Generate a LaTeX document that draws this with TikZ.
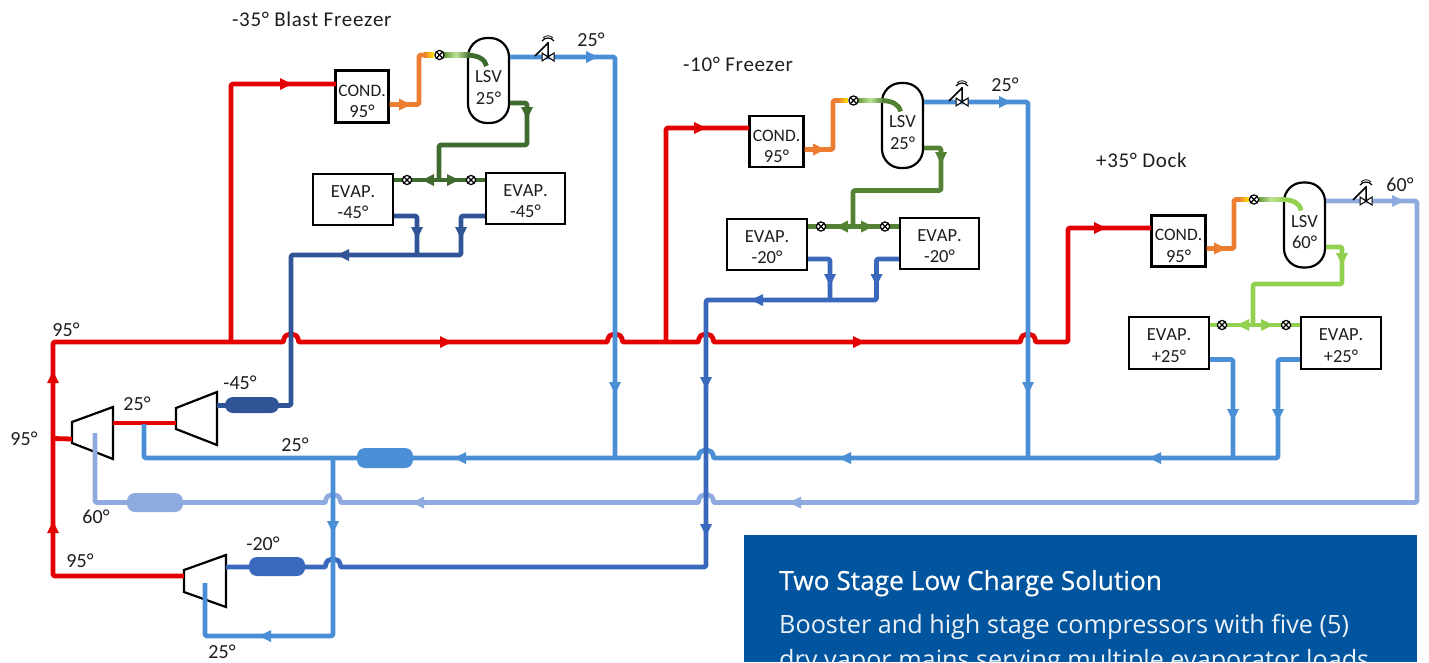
\documentclass[tikz,border=0pt]{standalone}
\usepackage{fontspec}
\setmainfont{Carlito}[Kerning=Off]
\newfontfamily\boxfont{Open Sans}
\newfontfamily\boxbold[FakeBold=0.5]{Open Sans}
\newfontfamily\titlefont[Kerning=Off,LetterSpace=3]{Carlito}
\definecolor{redl}{HTML}{E30000}
\definecolor{bluel}{HTML}{4A8FD5}
\definecolor{peri}{HTML}{8FAADF}
\definecolor{navy}{HTML}{2F5597}
\definecolor{midb}{HTML}{3A68BC}
\definecolor{dgreen}{HTML}{3F6B2F}
\definecolor{mgreen}{HTML}{548235}
\definecolor{lgreen}{HTML}{92D050}
\definecolor{orangel}{HTML}{ED7D31}
\definecolor{panel}{HTML}{00559E}
\definecolor{ink}{HTML}{1E1E1E}
\newcommand{\dn}[1]{\rule{0pt}{#1pt}}
\newcommand{\cnd}{\dn{21}{\fontsize{17.5}{21.5}\selectfont COND.}}
\tikzset{
  pipe/.style={line width=4.8pt,rounded corners=2pt,line join=round,draw=#1},
  box/.style={draw=black,line width=2.2pt,fill=white,minimum width=#1,align=center,inner sep=0pt,text=ink,font=\fontsize{18.5}{21.5}\selectfont},
  vessel/.style={draw=black,line width=2.2pt,fill=white,rounded corners=19pt,minimum width=41pt,minimum height=85pt,align=center,inner sep=0pt,text=ink,font=\fontsize{18.5}{21.5}\selectfont},
  lab/.style={text=ink,inner sep=0pt,font=\fontsize{20}{24}\selectfont},
  title/.style={text=ink,inner sep=0pt,anchor=west,font=\titlefont\fontsize{21}{24}\selectfont},
  rcv/.style={rounded corners=8pt,minimum height=#1,inner sep=0pt},
  comp/.style={draw=black,line width=2.2pt,fill=white,line join=miter},
  xvalve/.pic={\draw[black,line width=1.2pt,fill=white] (0,0) circle (4.6pt);
    \draw[black,line width=1.1pt] (-3.2,-3.2)--(3.2,3.2) (-3.2,3.2)--(3.2,-3.2);},
  gatevalve/.pic={\draw[black,line width=1pt,fill=white] (-6,-4)--(6,4)--(6,-4)--(-6,4)--cycle;
    \draw[black,line width=1.5pt] (0,0)--(0,-15) (-13,-1)--(0,-14);
    \draw[black,line width=1.2pt] (-6,-16) .. controls (-3,-20) and (3,-20) .. (6,-16);
    \draw[black,line width=.8pt] (-5,-19) .. controls (-2,-22) and (2,-22) .. (5,-19);}
}
% hump of a horizontal pipe over a vertical one
\newcommand{\hump}[2]{-- (#1-10,#2) .. controls (#1-7,#2) and (#1-8,#2-7.5) .. (#1,#2-7.5) .. controls (#1+8,#2-7.5) and (#1+7,#2) .. (#1+10,#2)}
\newcommand{\arR}[3]{\fill[#1] (#2+6,#3)--(#2-6,#3-6)--(#2-6,#3+6)--cycle;}
\newcommand{\arL}[3]{\fill[#1] (#2-6,#3)--(#2+6,#3-6)--(#2+6,#3+6)--cycle;}
\newcommand{\arU}[3]{\fill[#1] (#2,#3-6)--(#2-6,#3+6)--(#2+6,#3+6)--cycle;}
\newcommand{\arD}[3]{\fill[#1] (#2,#3+6)--(#2-6,#3-6)--(#2+6,#3-6)--cycle;}
\begin{document}
\begin{tikzpicture}[x=1pt,y=-1pt]
\useasboundingbox (0,0) rectangle (1429,662);
\begin{scope}
\clip (0,0) rectangle (1429,662);

% ---------- named vessels and boxes
\node[box=53pt,minimum height=52pt] (cond1) at (362,96.5) {\cnd\\95°};
\node[box=54pt,minimum height=51pt] (cond2) at (776.5,141.5) {\cnd\\95°};
\node[box=54pt,minimum height=51pt] (cond3) at (1178.5,241) {\cnd\\95°};
\node[vessel] (lsv1) at (488.5,80.5) {\dn{26}LSV\\25°};
\node[vessel] (lsv2) at (902.5,125.5) {\dn{26}LSV\\25°};
\node[vessel] (lsv3) at (1304.5,225) {\dn{26}LSV\\60°};
\node[box=80pt,minimum height=51pt] (ev1a) at (353,199.5) {\dn{17}EVAP.\\-45°};
\node[box=79pt,minimum height=51pt] (ev1b) at (525.5,198.5) {\dn{17}EVAP.\\-45°};
\node[box=80pt,minimum height=51pt] (ev2a) at (767,244.5) {\dn{17}EVAP.\\-20°};
\node[box=79pt,minimum height=51pt] (ev2b) at (939.5,243.5) {\dn{17}EVAP.\\-20°};
\node[box=80pt,minimum height=52pt] (ev3a) at (1169,343) {\dn{17}EVAP.\\+25°};
\node[box=80pt,minimum height=52pt] (ev3b) at (1341,343) {\dn{17}EVAP.\\+25°};

% ---------- compressors
\draw[comp] (72,422)--(113,407)--(113,459)--(72,443)--cycle;
\draw[comp] (176,408)--(217,392)--(217,445)--(176,429)--cycle;
\draw[comp] (184,570)--(226,555)--(226,607)--(184,592)--cycle;

% ---------- ports and junctions
\coordinate (c1in) at (336,84);
\coordinate (c2in) at (749,128);
\coordinate (c3in) at (1151,228);
\coordinate (hpout) at (72,439);
\coordinate (redmain) at (53,342);
\coordinate (redlow) at (184,576);
\coordinate (dis2) at (176,423);
\coordinate (dis1) at (113,423);

% ---------- periwinkle 60 deg main
\draw[pipe=peri] (95,433)--(95,502.5) \hump{333}{502.5} \hump{706}{502.5} -- (1417,502.5)--(1417,201)--(lsv3.east |- 0,201);
\node[fill=peri,rcv=19pt,minimum width=56pt] (r60) at (155,502.5) {};
\arL{peri}{418}{502.5}\arL{peri}{795}{502.5}\arR{peri}{1398}{201}

% ---------- red discharge
\draw[pipe=redl] (redlow)--(53,576)--(redmain) \hump{291}{342} \hump{615}{342} \hump{706}{342} \hump{1028}{342} -- (1068,342)--(1068,228)--(c3in);
\draw[pipe=redl] (231,342)--(231,84)--(c1in);
\draw[pipe=redl] (666,342)--(666,128)--(c2in);
\draw[pipe=redl] (53,438.5)--(hpout);
\draw[pipe=redl] (dis1)--(dis2);
\arU{redl}{53}{377}\arU{redl}{53}{527}
\arR{redl}{286}{84}\arR{redl}{700}{128}\arR{redl}{1100}{228}
\arR{redl}{446}{342}\arR{redl}{859}{342}

% ---------- 25 deg suction mains
\draw[pipe=bluel] (144,424)--(144,458)--(357,458)\hump{706}{458} -- (1278,458)--(1278,359.5)--(ev3b.west |- 0,359.5);
\draw[pipe=bluel] (1233,458)--(1233,359.5)--(ev3a.east |- 0,359.5);
\draw[pipe=bluel] (lsv1.east |- 0,57)--(615,57)--(615,458);
\draw[pipe=bluel] (lsv2.east |- 0,102)--(1028,102)--(1028,458);
\node[fill=bluel,rcv=20pt,minimum width=56pt] (r25) at (385,458) {};
\arL{bluel}{460}{458}\arL{bluel}{845}{458}\arL{bluel}{1155}{458}
\arD{bluel}{615}{388}\arD{bluel}{1028}{388}
\arR{bluel}{592}{57}\arR{bluel}{1005}{102}
\arD{bluel}{1233}{415}\arD{bluel}{1278}{415}

% ---------- -20 deg suction
\draw[pipe=midb] (226,567) \hump{333}{567} -- (706,567)--(706,300)--(876.5,300)--(876.5,259)--(ev2b.west |- 0,259);
\draw[pipe=midb] (830,300)--(830,259)--(ev2a.east |- 0,259);
\node[fill=midb,rcv=19pt,minimum width=56pt] (r20) at (277,566.5) {};
\arL{midb}{757}{300}\arD{midb}{830}{280}\arD{midb}{876.5}{280}
\arD{midb}{706}{383}\arD{midb}{706}{530}

% ---------- interstage branch to third compressor
\draw[pipe=bluel] (333,458)--(333,636)--(205,636)--(205,583);
\arD{bluel}{333}{527}\arL{bluel}{265}{636}

% ---------- -45 deg suction
\draw[pipe=navy] (217,405.5)--(291,405.5)--(291,255)--(461,255)--(461,216)--(ev1b.west |- 0,216);
\draw[pipe=navy] (417,255)--(417,216)--(ev1a.east |- 0,216);
\node[fill=navy,rcv=16pt,minimum width=54pt] (r45) at (252,405) {};
\arL{navy}{343}{255}\arD{navy}{417}{233}\arD{navy}{461}{233}

% ---------- liquid feeds, system 1
\draw[pipe=orangel] (cond1.east |- 0,104.5)--(419,104.5)--(419,55)--(425,55);
\arR{orangel}{405}{104.5}
\shade[left color=orangel,right color=yellow!80!orange] (424,52.6)rectangle(434,57.4);
\shade[left color=mgreen!70!lgreen,right color=lgreen!60!white] (444,52.6)rectangle(456,57.4);
\shade[left color=lgreen!60!white,right color=dgreen] (456,52.6)rectangle(470,57.4);
\draw[line width=4.8pt,draw=dgreen] (468,55.1) .. controls (478,55.5) and (485,59) .. (486.5,66);
\pic at (439.5,55) {xvalve};
\pic at (548,57) {gatevalve};
\draw[pipe=dgreen] (lsv1.east |- 0,103)--(527,103)--(527,145)--(439,145)--(439,180);
\draw[pipe=dgreen] (ev1a.east |- 0,180)--(ev1b.west |- 0,180);
\arD{dgreen}{527}{113}\arL{dgreen}{428}{180}\arR{dgreen}{453}{180}
\pic at (407,180) {xvalve};\pic at (471,180) {xvalve};

% ---------- liquid feeds, system 2
\draw[pipe=orangel] (cond2.east |- 0,149.5)--(833,149.5)--(833,100.5)--(839,100.5);
\arR{orangel}{819}{149.5}
\shade[left color=orangel,right color=yellow!80!orange] (838,98.1)rectangle(848,102.9);
\shade[left color=mgreen!70!lgreen,right color=lgreen!60!white] (858,98.1)rectangle(870,102.9);
\shade[left color=lgreen!60!white,right color=mgreen] (870,98.1)rectangle(884,102.9);
\draw[line width=4.8pt,draw=mgreen] (882,100.5) .. controls (892,101) and (899,104) .. (900.5,111.5);
\pic at (853.5,100.5) {xvalve};
\pic at (962,102) {gatevalve};
\draw[pipe=mgreen] (lsv2.east |- 0,148)--(941,148)--(941,190.5)--(853,190.5)--(853,226.5);
\draw[pipe=mgreen] (ev2a.east |- 0,226.5)--(ev2b.west |- 0,226.5);
\arD{mgreen}{941}{158}\arL{mgreen}{842}{226.5}\arR{mgreen}{867}{226.5}
\pic at (821,226.5) {xvalve};\pic at (885,226.5) {xvalve};

% ---------- liquid feeds, system 3
\draw[pipe=orangel] (cond3.east |- 0,248.5)--(1234,248.5)--(1234,199.5)--(1240,199.5);
\arR{orangel}{1220}{248.5}
\shade[left color=orangel,right color=yellow!80!orange] (1239,197.1)rectangle(1249,201.9);
\shade[left color=mgreen!70!lgreen,right color=lgreen!60!white] (1259,197.1)rectangle(1271,201.9);
\shade[left color=lgreen!60!white,right color=lgreen] (1271,197.1)rectangle(1285,201.9);
\draw[line width=4.8pt,draw=lgreen] (1283,199.5) .. controls (1293,200) and (1300,203) .. (1301,210.5);
\pic at (1254,199.5) {xvalve};
\pic at (1366,201) {gatevalve};
\draw[pipe=lgreen] (lsv3.east |- 0,247)--(1342,247)--(1342,284)--(1253,284)--(1253,325);
\draw[pipe=lgreen] (ev3a.east |- 0,325)--(ev3b.west |- 0,325);
\arD{lgreen}{1342}{259}\arL{lgreen}{1243}{325}\arR{lgreen}{1267}{325}
\pic at (1222,325) {xvalve};\pic at (1286,325) {xvalve};

% ---------- labels
\node[title] (t1) at (232,19) {-35° Blast Freezer};
\node[title] (t2) at (683,64) {-10° Freezer};
\node[title] (t3) at (1096,160) {+35° Dock};
\node[lab] (l1) at (591,40) {25°};
\node[lab] (l2) at (1005,85) {25°};
\node[lab] (l3) at (1400,185) {60°};
\node[lab] (l4) at (66,330) {95°};
\node[lab] (l5) at (24,439) {95°};
\node[lab] (l6) at (137,404) {25°};
\node[lab] (l7) at (240,383) {-45°};
\node[lab] (l8) at (295,445) {25°};
\node[lab] (l9) at (96,517) {60°};
\node[lab] (l10) at (80,561) {95°};
\node[lab] (l11) at (263,544) {-20°};
\node[lab] (l12) at (222,652) {25°};

% ---------- text panel
\fill[panel] (744,535) rectangle (1417,662);
\node[anchor=base west,inner sep=0pt,text=white,font=\boxbold\fontsize{26.3}{30}\selectfont] (ptitle) at (779,590) {Two Stage Low Charge Solution};
\node[anchor=base west,inner sep=0pt,text=white!92!panel,font=\boxfont\fontsize{25.2}{30}\selectfont] (pa) at (779,633) {Booster and high stage compressors with five (5)};
\node[anchor=base west,inner sep=0pt,text=white!92!panel,font=\boxfont\fontsize{25.2}{30}\selectfont] (pb) at (779,668) {dry vapor mains serving multiple evaporator loads};
\end{scope}
\end{tikzpicture}
\end{document}
